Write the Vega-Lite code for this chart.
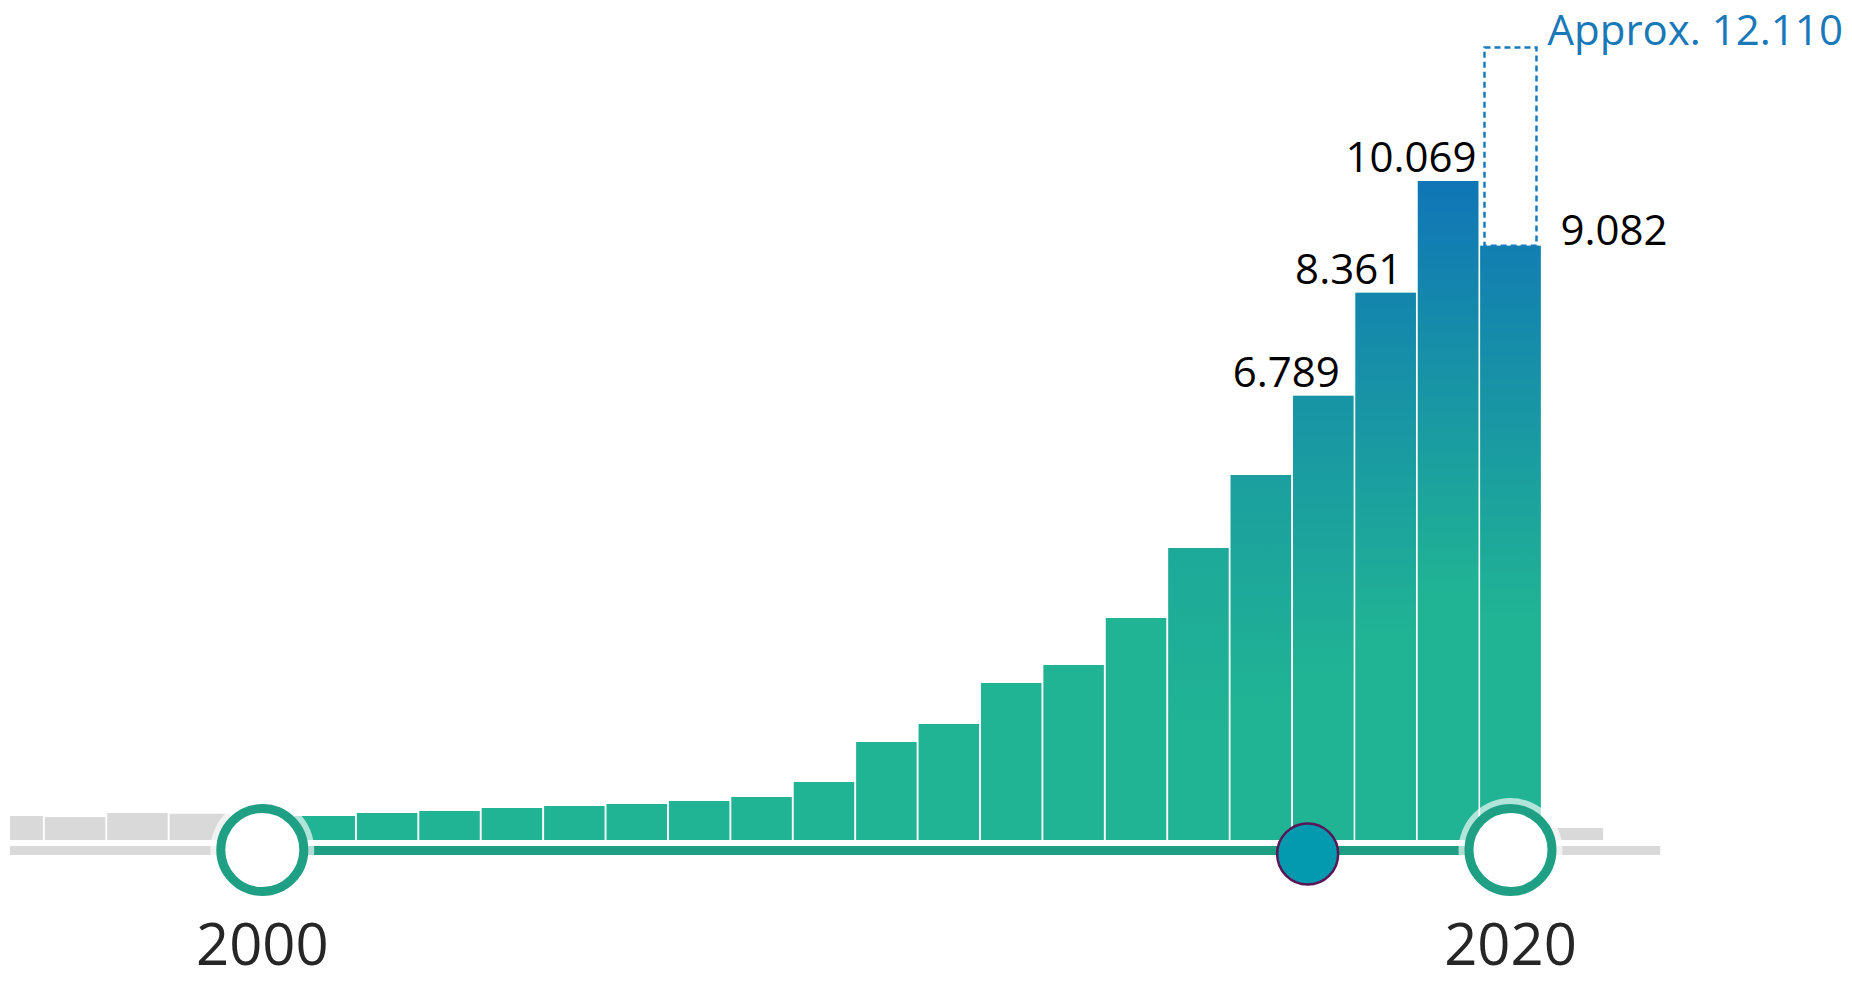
{
  "$schema": "https://vega.github.io/schema/vega-lite/v6.json",
  "width": 1842,
  "height": 984,
  "padding": {"left": 10, "top": 0, "right": 0, "bottom": 0},
  "autosize": {"type": "none"},
  "background": "white",
  "config": {"view": {"stroke": null}},
  "datasets": {
    "bars": [
      {"year": 1996, "count": 367, "range": "out"},
      {"year": 1997, "count": 350, "range": "out"},
      {"year": 1998, "count": 413, "range": "out"},
      {"year": 1999, "count": 400, "range": "out"},
      {"year": 2000, "count": 380, "range": "in"},
      {"year": 2001, "count": 367, "range": "in"},
      {"year": 2002, "count": 413, "range": "in"},
      {"year": 2003, "count": 443, "range": "in"},
      {"year": 2004, "count": 489, "range": "in"},
      {"year": 2005, "count": 520, "range": "in"},
      {"year": 2006, "count": 550, "range": "in"},
      {"year": 2007, "count": 596, "range": "in"},
      {"year": 2008, "count": 657, "range": "in"},
      {"year": 2009, "count": 886, "range": "in"},
      {"year": 2010, "count": 1497, "range": "in"},
      {"year": 2011, "count": 1772, "range": "in"},
      {"year": 2012, "count": 2399, "range": "in"},
      {"year": 2013, "count": 2674, "range": "in"},
      {"year": 2014, "count": 3392, "range": "in"},
      {"year": 2015, "count": 4462, "range": "in"},
      {"year": 2016, "count": 5577, "range": "in"},
      {"year": 2017, "count": 6789, "range": "in", "label": "6.789"},
      {"year": 2018, "count": 8361, "range": "in", "label": "8.361"},
      {"year": 2019, "count": 10069, "range": "in", "label": "10.069"},
      {"year": 2020, "count": 9082, "range": "in"},
      {"year": 2021, "count": 183, "range": "out"}
    ],
    "track": [
      {"start": 1995, "end": 2000, "part": "out"},
      {"start": 2000, "end": 2020, "part": "in"},
      {"start": 2020, "end": 2022.4, "part": "out"}
    ],
    "handles": [
      {"year": 2000, "label": "2000"},
      {"year": 2020, "label": "2020"}
    ],
    "current": [{"year": 2016.75}],
    "forecast": [{"year": 2020, "count": 9082, "projected": 12110, "label": "9.082", "note": "Approx. 12.110"}]
  },
  "layer": [
    {
      "data": {"name": "track"},
      "mark": {"type": "rule", "strokeWidth": 9, "clip": true},
      "encoding": {
        "x": {"field": "start", "type": "quantitative", "scale": {"domain": [1996.0375, 2025.392], "nice": false, "zero": false}, "axis": null},
        "x2": {"field": "end"},
        "y": {"datum": -160, "type": "quantitative", "scale": {"domain": [-2200.3, 12835.2], "nice": false, "zero": false}, "axis": null},
        "stroke": {"field": "part", "type": "nominal", "scale": {"domain": ["in", "out"], "range": ["#1e9e83", "#d9d9d9"]}, "legend": null}
      }
    },
    {
      "data": {"name": "bars"},
      "mark": {"type": "bar", "width": 60.5, "clip": true},
      "encoding": {
        "x": {"field": "year", "type": "quantitative", "scale": {"domain": [1996.0375, 2025.392], "nice": false, "zero": false}, "axis": null},
        "y": {"field": "count", "type": "quantitative", "scale": {"domain": [-2200.3, 12835.2], "nice": false, "zero": false}, "axis": null},
        "fill": {"field": "range", "type": "nominal", "scale": {"domain": ["in", "out"], "range": ["#20b394", "#d9d9d9"]}, "legend": null}
      }
    },
    {
      "data": {"name": "bars"},
      "transform": [{"filter": "datum.range == 'in'"}],
      "mark": {
        "type": "bar",
        "width": 60.5,
        "clip": true,
        "fill": {
          "gradient": "linear",
          "x1": 0, "y1": 0, "x2": 0, "y2": 1,
          "stops": [
            {"offset": 0, "color": "#0e6fba"},
            {"offset": 0.62, "color": "#20b394"},
            {"offset": 1, "color": "#20b394"}
          ]
        }
      },
      "encoding": {
        "x": {"field": "year", "type": "quantitative", "axis": null},
        "y": {"field": "count", "type": "quantitative", "axis": null},
        "opacity": {"field": "count", "type": "quantitative", "scale": {"domain": [3400, 10750], "range": [0, 1], "clamp": true}, "legend": null}
      }
    },
    {
      "data": {"name": "forecast"},
      "mark": {"type": "bar", "width": 52, "fillOpacity": 0, "stroke": "#1a7bbb", "strokeWidth": 2.5, "strokeDash": [6, 4]},
      "encoding": {
        "x": {"field": "year", "type": "quantitative", "axis": null},
        "y": {"field": "projected", "type": "quantitative", "axis": null},
        "y2": {"field": "count"}
      }
    },
    {
      "data": {"name": "bars"},
      "transform": [{"filter": "isValid(datum.label)"}],
      "mark": {"type": "text", "font": "Open Sans", "fontSize": 42, "color": "#000000", "align": "center", "baseline": "alphabetic", "dx": -37, "dy": -9},
      "encoding": {
        "x": {"field": "year", "type": "quantitative", "axis": null},
        "y": {"field": "count", "type": "quantitative", "axis": null},
        "text": {"field": "label", "type": "nominal"}
      }
    },
    {
      "data": {"name": "forecast"},
      "mark": {"type": "text", "font": "Open Sans", "fontSize": 42, "color": "#000000", "align": "left", "baseline": "alphabetic", "dx": 50, "dy": -1},
      "encoding": {
        "x": {"field": "year", "type": "quantitative", "axis": null},
        "y": {"field": "count", "type": "quantitative", "axis": null},
        "text": {"field": "label", "type": "nominal"}
      }
    },
    {
      "data": {"name": "forecast"},
      "mark": {"type": "text", "font": "Open Sans", "fontSize": 42, "color": "#1878b8", "align": "left", "baseline": "alphabetic", "dx": 37, "dy": -2},
      "encoding": {
        "x": {"field": "year", "type": "quantitative", "axis": null},
        "y": {"field": "projected", "type": "quantitative", "axis": null},
        "text": {"field": "note", "type": "nominal"}
      }
    },
    {
      "data": {"name": "handles"},
      "mark": {"type": "point", "shape": "circle", "filled": true, "fill": "#ffffff", "strokeWidth": 0, "opacity": 0.65, "size": 10800},
      "encoding": {
        "x": {"field": "year", "type": "quantitative", "axis": null},
        "y": {"datum": -153, "type": "quantitative"}
      }
    },
    {
      "data": {"name": "handles"},
      "mark": {"type": "point", "shape": "circle", "filled": true, "fill": "#ffffff", "stroke": "#1fa085", "strokeWidth": 9, "opacity": 1, "size": 6889},
      "encoding": {
        "x": {"field": "year", "type": "quantitative", "axis": null},
        "y": {"datum": -153, "type": "quantitative"}
      }
    },
    {
      "data": {"name": "current"},
      "mark": {"type": "point", "shape": "circle", "filled": true, "fill": "#0399ae", "stroke": "#5b1657", "strokeWidth": 2.5, "opacity": 1, "size": 3721},
      "encoding": {
        "x": {"field": "year", "type": "quantitative", "axis": null},
        "y": {"datum": -214, "type": "quantitative"}
      }
    },
    {
      "data": {"name": "handles"},
      "mark": {"type": "text", "font": "Open Sans", "fontSize": 58, "color": "#262626", "align": "center", "baseline": "alphabetic"},
      "encoding": {
        "x": {"field": "year", "type": "quantitative", "axis": null},
        "y": {"datum": -1910, "type": "quantitative"},
        "text": {"field": "label", "type": "nominal"}
      }
    }
  ]
}
